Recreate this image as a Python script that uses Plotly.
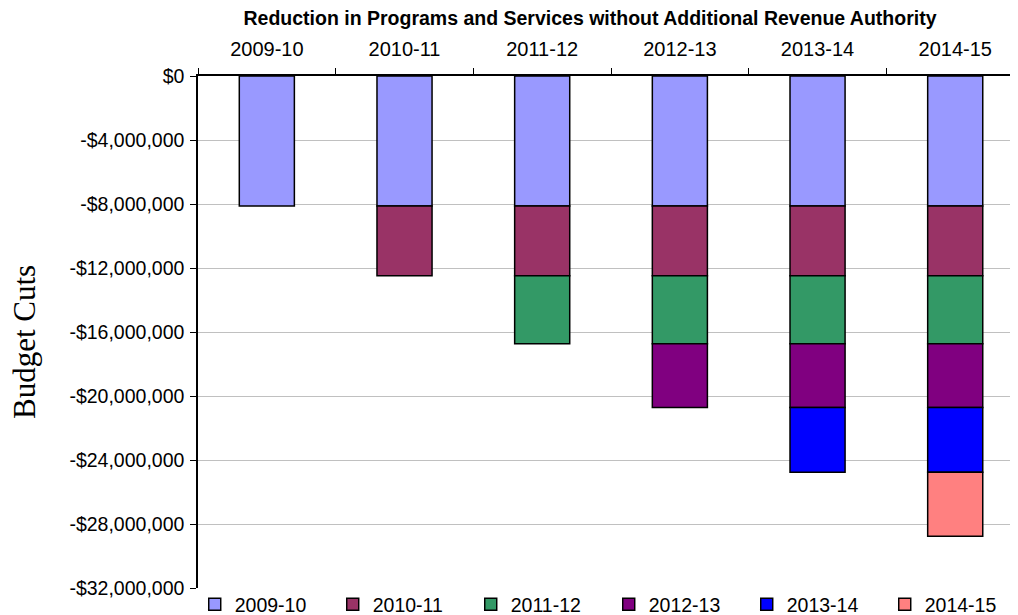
import plotly.graph_objects as go

categories = ["2009-10", "2010-11", "2011-12", "2012-13", "2013-14", "2014-15"]
series_names = ["2009-10", "2010-11", "2011-12", "2012-13", "2013-14", "2014-15"]
# incremental cut introduced in each year (dollars, negative); applies to that year and all later years
cut_2009_10 = [-8130000, -8130000, -8130000, -8130000, -8130000, -8130000]
cut_2010_11 = [None, -4360000, -4360000, -4360000, -4360000, -4360000]
cut_2011_12 = [None, None, -4240000, -4240000, -4240000, -4240000]
cut_2012_13 = [None, None, None, -3990000, -3990000, -3990000]
cut_2013_14 = [None, None, None, None, -4040000, -4040000]
cut_2014_15 = [None, None, None, None, None, -4000000]
series_values = [cut_2009_10, cut_2010_11, cut_2011_12, cut_2012_13, cut_2013_14, cut_2014_15]
colors = ["#9999FF", "#993366", "#339966", "#800080", "#0000FF", "#FF8080"]

tick_vals = [0, -4000000, -8000000, -12000000, -16000000, -20000000, -24000000, -28000000, -32000000]
tick_text = ["$0", "-$4,000,000", "-$8,000,000", "-$12,000,000", "-$16,000,000",
             "-$20,000,000", "-$24,000,000", "-$28,000,000", "-$32,000,000"]

fig = go.Figure()
for name, vals, col in zip(series_names, series_values, colors):
    fig.add_trace(go.Bar(
        name=name, x=categories, y=vals, width=0.4,
        marker=dict(color=col, line=dict(color="black", width=1.5)),
    ))

# the page body has an 8px margin, so the figure is 1010x607 placed at (8, 8)
fig.update_layout(
    width=1010, height=607,
    barmode="relative",
    plot_bgcolor="white", paper_bgcolor="white",
    margin=dict(l=190, r=0, t=68, b=27, autoexpand=False),
    font=dict(family="Liberation Sans, Arial, sans-serif", color="black"),
    title=dict(
        text="<b>Reduction in Programs and Services without Additional Revenue Authority</b>",
        font=dict(size=19.5, family="Liberation Sans, Arial, sans-serif", color="black"),
        xref="container", x=582 / 1010, xanchor="center",
        yref="container", y=1 - 10 / 607, yanchor="middle",
    ),
    xaxis=dict(
        side="top", type="category", range=[-0.5, 5.456], automargin=False,
        showline=True, linecolor="black", linewidth=1.5,
        ticks="outside", tickson="boundaries", ticklen=6, tickcolor="black",
        tickfont=dict(size=20), ticklabelstandoff=10,
        showgrid=False, zeroline=False,
    ),
    yaxis=dict(
        range=[-32000000, 0], tickvals=tick_vals, ticktext=tick_text, automargin=False,
        showline=True, linecolor="black", linewidth=1.5,
        ticks="outside", ticklen=6, tickcolor="black",
        tickfont=dict(size=19.5), ticklabelstandoff=2,
        showgrid=True, gridcolor="#C0C0C0", gridwidth=1,
        zeroline=False,
    ),
    legend=dict(
        orientation="h", x=-0.004, xanchor="left",
        y=-0.0326, yanchor="middle",
        font=dict(size=19.5), entrywidth=93, entrywidthmode="pixels",
        itemwidth=30, traceorder="normal", bgcolor="rgba(0,0,0,0)",
    ),
    showlegend=True,
    annotations=[dict(
        text="Budget Cuts", textangle=-90,
        xref="paper", yref="paper", x=(24 - 198) / 820, y=(588 - 342) / 512,
        xanchor="center", yanchor="middle", showarrow=False,
        font=dict(family="Liberation Serif, Times New Roman, serif", size=31, color="black"),
    )],
)

fig.write_html("out.html")
